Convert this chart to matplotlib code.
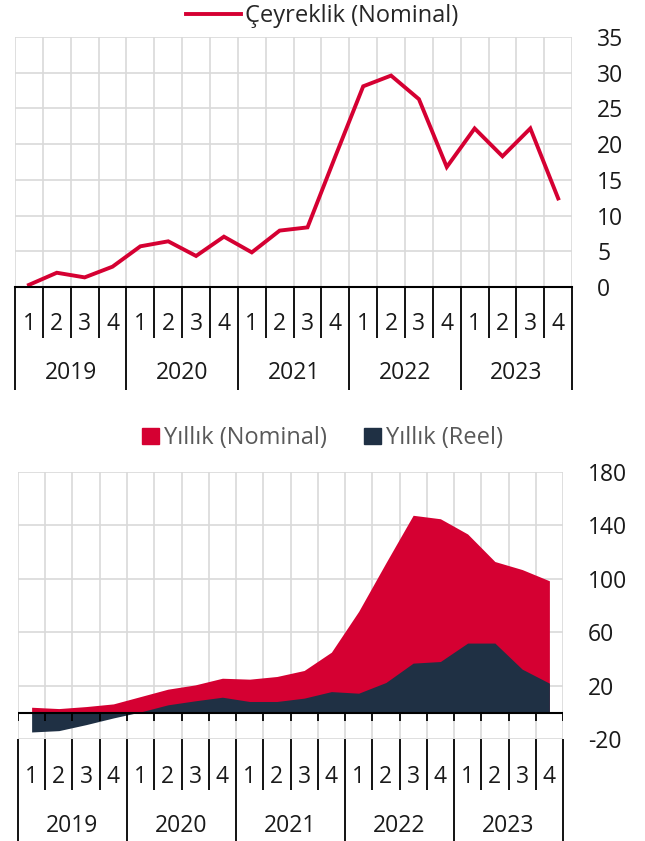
import numpy as np
import matplotlib
matplotlib.use("Agg")
import matplotlib.pyplot as plt
from matplotlib.lines import Line2D
from matplotlib.patches import Patch

plt.rcParams["font.family"] = ["Open Sans", "DejaVu Sans"]
plt.rcParams["axes.unicode_minus"] = False

years = ["2019", "2020", "2021", "2022", "2023"]
quarters = ["1", "2", "3", "4"]

# quarterly nominal change (%)
ceyreklik = [0.3, 2.0, 1.35, 2.85, 5.7, 6.4, 4.35, 7.05, 4.85, 7.9,
             8.35, 18.3, 28.1, 29.6, 26.3, 16.8, 22.2, 18.3, 22.2, 12.4]
# annual nominal / real change (%)
yillik_nominal = [4.0, 3.0, 4.5, 6.5, 12.0, 17.5, 20.7, 25.7, 25.0, 27.0,
                  31.5, 45.2, 75.7, 112.0, 147.6, 145.0, 133.6, 113.0, 107.0, 98.6]
yillik_reel = [-14.5, -13.5, -9.0, -4.0, 0.5, 5.8, 8.8, 11.5, 8.3, 8.3,
               10.8, 15.7, 14.5, 22.5, 37.0, 38.2, 52.0, 52.0, 32.5, 22.0]

RED = "#D50032"
NAVY = "#1F3044"
GRID = "#D9D9D9"
FS = 16.5
LEG_FS = 17

n = len(ceyreklik)
x = np.arange(n)

fig = plt.figure(figsize=(6.45, 8.41), dpi=100)
ax1 = fig.add_axes([0.0233, 0.6587, 0.8637, 0.2973])
ax2 = fig.add_axes([0.0279, 0.1209, 0.8450, 0.3179])


def style_axis(ax, q_bot, y_bot, q_lab, y_lab):
    ax.set_xlim(-0.5, n - 0.5)
    ax.set_xticks([])
    ax.set_xticks(np.arange(-0.5, n, 1), minor=True)
    ax.tick_params(axis="x", which="minor", length=0)
    ax.grid(True, which="minor", axis="x", color=GRID, lw=1.2)
    ax.grid(True, which="major", axis="y", color=GRID, lw=1.2)
    ax.set_axisbelow(True)
    ax.yaxis.tick_right()
    ax.tick_params(axis="y", length=0, pad=18, labelsize=FS, labelcolor="#1a1a1a")
    for lab in ax.get_yticklabels():
        lab.set_horizontalalignment("left")
    for s in ["top", "left", "right"]:
        ax.spines[s].set_visible(False)

    # category table under the plot
    tr = ax.get_xaxis_transform()
    bounds = np.arange(-0.5, n, 1)
    for i, b in enumerate(bounds):
        bottom = y_bot if i % 4 == 0 else q_bot
        ax.plot([b, b], [0, bottom], transform=tr, color="black", lw=1.3,
                clip_on=False, solid_capstyle="butt")
    for i in range(n):
        ax.text(i, q_lab, quarters[i % 4], transform=tr, ha="center",
                va="center", fontsize=FS, color="#1a1a1a")
    for j, yr in enumerate(years):
        ax.text(4 * j + 1.5, y_lab, yr, transform=tr, ha="center",
                va="center", fontsize=FS, color="#1a1a1a")


# top: quarterly line
ax1.plot(x, ceyreklik, color=RED, lw=2.8, solid_joinstyle="miter")
ax1.set_ylim(0, 35)
ax1.set_yticks(np.arange(0, 36, 5))
ax1.spines["bottom"].set_color("black")
ax1.spines["bottom"].set_linewidth(1.5)
style_axis(ax1, -0.204, -0.412, -0.146, -0.344)

fig.legend(handles=[Line2D([], [], color=RED, lw=2.8)],
           labels=["Çeyreklik (Nominal)"], loc="center",
           bbox_to_anchor=(0.5, 0.981), frameon=False, fontsize=LEG_FS,
           handlelength=2.3, handletextpad=0.2, labelcolor="#262626")

# bottom: annual areas
ax2.fill_between(x, 0, yillik_nominal, color=RED, lw=0)
ax2.fill_between(x, 0, yillik_reel, color=NAVY, lw=0)
ax2.set_ylim(-20, 180)
ax2.set_yticks(np.arange(-20, 181, 40))
ax2.spines["bottom"].set_visible(False)
ax2.axhline(0, color="black", lw=1.5)
ax2.vlines(np.arange(-0.5, n, 1), -6, 0, color="black", lw=1.3)
style_axis(ax2, -0.19, -0.38, -0.14, -0.325)

fig.legend(handles=[Patch(color=RED), Patch(color=NAVY)],
           labels=["Yıllık (Nominal)", "Yıllık (Reel)"], loc="center",
           bbox_to_anchor=(0.5, 0.479), ncol=2, frameon=False, fontsize=LEG_FS,
           handlelength=0.7, handleheight=0.7, handletextpad=0.2,
           columnspacing=1.6, labelcolor="#595959")

fig.savefig("out.png", dpi=100)
